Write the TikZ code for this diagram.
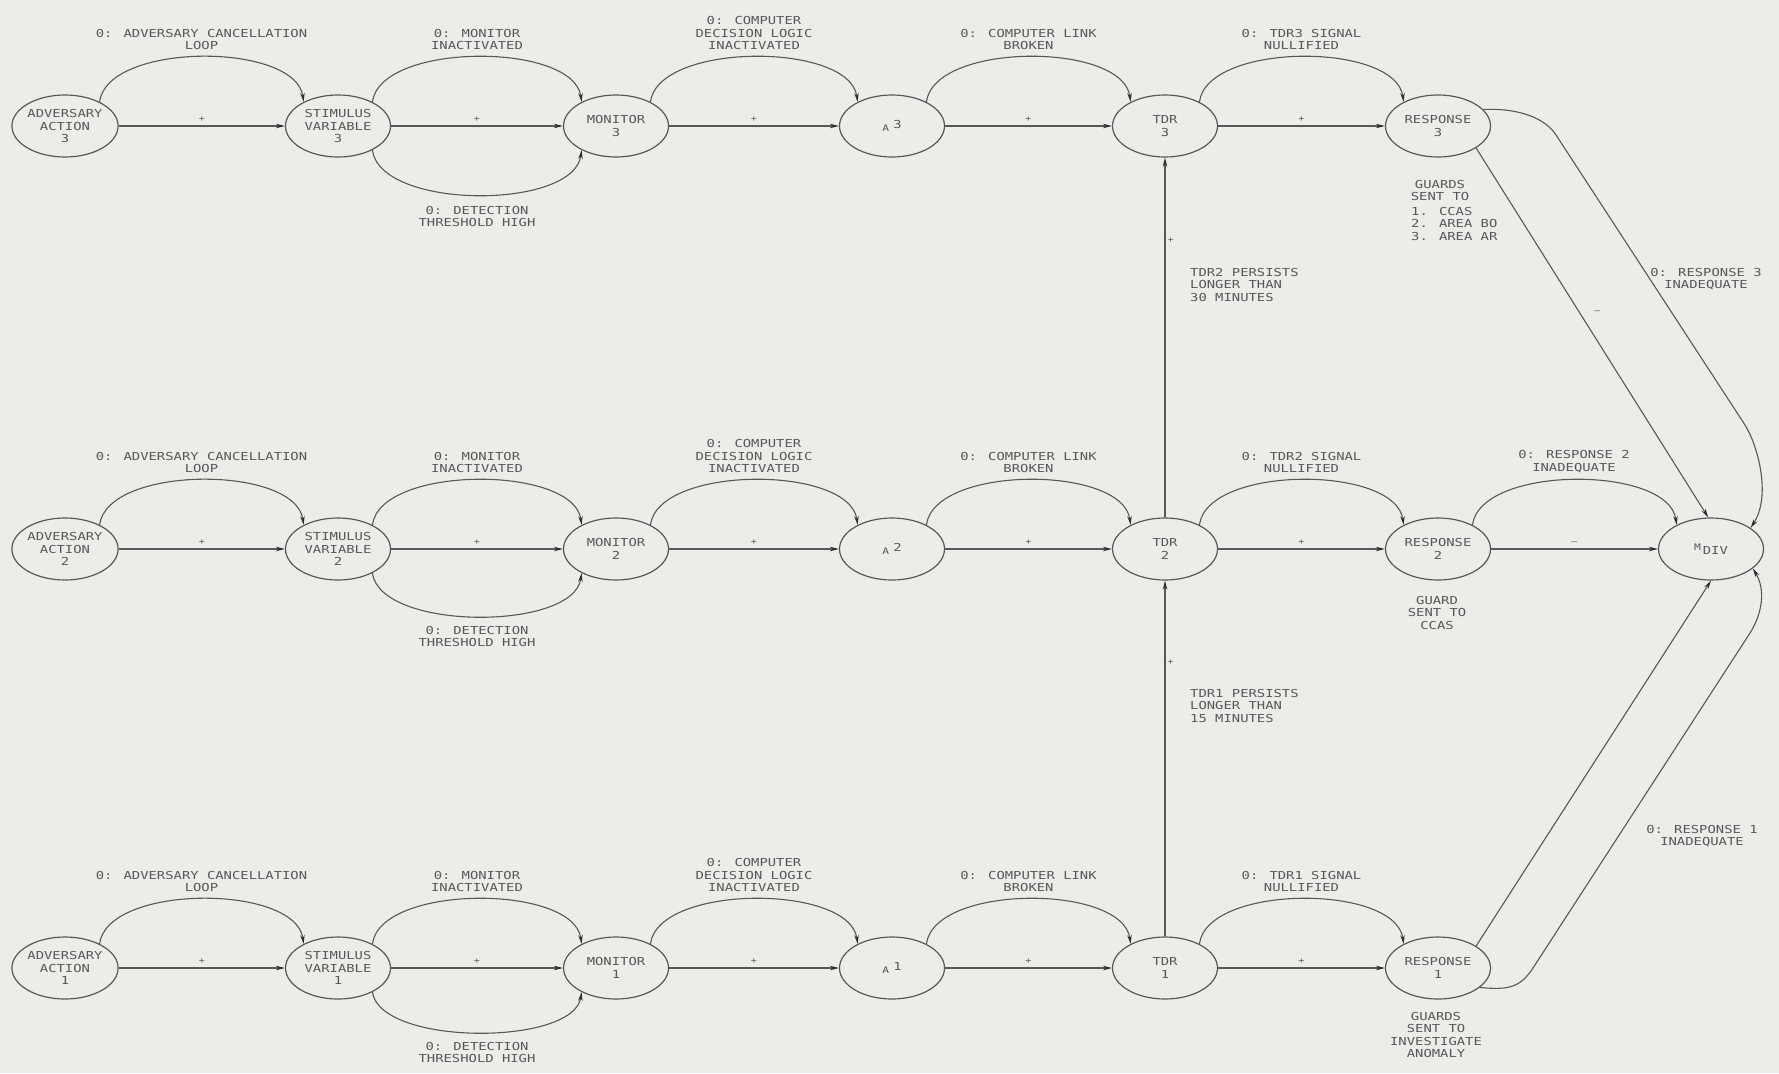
\documentclass[tikz,border=0pt]{standalone}
\usepackage{fontspec}
\newfontfamily\plotfont{DejaVu Sans Mono}[FakeStretch=1.26]
\usetikzlibrary{arrows.meta,shapes.geometric}
\definecolor{paper}{RGB}{236,236,233}
\definecolor{ink}{RGB}{88,88,88}
\definecolor{tip}{RGB}{45,45,45}
\begin{document}
\begin{tikzpicture}[x=1pt,y=-1pt,
  every node/.style={font=\plotfont\fontsize{11}{12.5}\selectfont, text=ink},
  state/.style={ellipse, draw=ink, line width=1.2pt, minimum width=105pt, minimum height=62pt, inner sep=0pt, align=center},
  lbl/.style={align=center, inner sep=0pt},
  conn/.style={draw=ink, line width=1.1pt, -{Stealth[length=9pt,width=4.5pt,color=tip]}},
  gain/.style={font=\plotfont\fontsize{8}{8}\selectfont, inner sep=0pt, above=4pt},
  gainr/.style={font=\plotfont\fontsize{8}{8}\selectfont, inner sep=0pt, right=2pt}]
\useasboundingbox (0,0) rectangle (1779,1073);
\fill[paper] (0,0) rectangle (1779,1073);

\foreach \r/\y/\d/\o in {3/126/60/80, 2/549/58/77, 1/968/54/74} {
  \node[state] (adv\r)  at (65,\y)   {ADVERSARY\\ACTION\\\r};
  \node[state] (stim\r) at (338,\y)  {STIMULUS\\VARIABLE\\\r};
  \node[state] (mon\r)  at (616,\y)  {MONITOR\\\r};
  \node[state] (a\r)    at (892,\y)  {{\fontsize{9}{9}\selectfont A}\hspace{4pt}\raisebox{3pt}{\r}};
  \node[state] (tdr\r)  at (1165,\y) {TDR\\\r};
  \node[state] (resp\r) at (1438,\y) {RESPONSE\\\r};

  \draw[conn] (adv\r)  -- node[gain]{+} (stim\r);
  \draw[conn] (stim\r) -- node[gain]{+} (mon\r);
  \draw[conn] (mon\r)  -- node[gain]{+} (a\r);
  \draw[conn] (a\r)    -- node[gain]{+} (tdr\r);
  \draw[conn] (tdr\r)  -- node[gain]{+} (resp\r);

  \draw[conn] (adv\r.35)  .. controls +(8,-60) and +(-8,-60) .. (stim\r.145);
  \draw[conn] (stim\r.35) .. controls +(8,-60) and +(-8,-60) .. (mon\r.145);
  \draw[conn] (stim\r.-35) .. controls +(8,\d) and +(-8,\d) .. (mon\r.-145);
  \draw[conn] (mon\r.35)  .. controls +(8,-60) and +(-8,-60) .. (a\r.145);
  \draw[conn] (a\r.35)    .. controls +(8,-60) and +(-8,-60) .. (tdr\r.145);
  \draw[conn] (tdr\r.35)  .. controls +(8,-60) and +(-8,-60) .. (resp\r.145);

  \node[lbl, anchor=south] (l1\r) at (201.5,\y-76) {0: ADVERSARY CANCELLATION\\LOOP};
  \node[lbl, anchor=south] (l2\r) at (477,\y-76)   {0: MONITOR\\INACTIVATED};
  \node[lbl, anchor=north] (l3\r) at (477,\y+\o)   {0: DETECTION\\THRESHOLD HIGH};
  \node[lbl, anchor=south] (l4\r) at (754,\y-76)   {0: COMPUTER\\DECISION LOGIC\\INACTIVATED};
  \node[lbl, anchor=south] (l5\r) at (1028.5,\y-76) {0: COMPUTER LINK\\BROKEN};
  \node[lbl, anchor=south] (l6\r) at (1301.5,\y-76) {0: TDR\r\ SIGNAL\\NULLIFIED};
}

% TDR persistence links
\draw[conn] (tdr1) -- node[pos=0.77, gainr]{+} (tdr2);
\draw[conn] (tdr2) -- node[pos=0.77, gainr]{+} (tdr3);
\node[lbl, align=left, anchor=north west] (p2) at (1190,268) {TDR2 PERSISTS\\LONGER THAN\\30 MINUTES};
\node[lbl, align=left, anchor=north west] (p1) at (1190,689) {TDR1 PERSISTS\\LONGER THAN\\15 MINUTES};

% response notes
\node[lbl, anchor=north] (g3) at (1440,180) {GUARDS\\SENT TO};
\node[lbl, align=left, anchor=north west] (g3b) at (1411,207) {1. CCAS\\2. AREA BO\\3. AREA AR};
\node[lbl, anchor=north] (g2) at (1437,596) {GUARD\\SENT TO\\CCAS};
\node[lbl, anchor=north] (g1) at (1436,1012) {GUARDS\\SENT TO\\INVESTIGATE\\ANOMALY};

% M DIV
\node[state] (mdiv) at (1711,549) {\raisebox{4pt}{\fontsize{9}{9}\selectfont M}\,DIV};

\draw[conn] (resp2) -- node[gain]{–} (mdiv);
\draw[conn] (resp2.35) .. controls +(8,-60) and +(-8,-60) .. (mdiv.145);
\node[lbl, anchor=south] (r2) at (1574,473) {0: RESPONSE 2\\INADEQUATE};

\draw[conn] (resp3.-30) -- node[pos=0.445, xshift=18pt, font=\plotfont\fontsize{8}{8}\selectfont, inner sep=0pt]{–} (mdiv.95);
\draw[conn] (resp3.20) .. controls (1512,108) and (1543,115) .. (1556,135) -- (1745,425)
   .. controls (1757,444) and (1772,495) .. (mdiv.28);
\node[lbl] (r3) at (1706,279) {0: RESPONSE 3\\INADEQUATE};

\draw[conn] (resp1.30) -- (mdiv.270);
\draw[conn] (resp1.-25) .. controls (1508,990) and (1520,988) .. (1533,968) -- (1750,633)
   .. controls (1762,614) and (1766,590) .. (mdiv.-25);
\node[lbl] (r1) at (1702,836) {0: RESPONSE 1\\INADEQUATE};
\end{tikzpicture}
\end{document}
